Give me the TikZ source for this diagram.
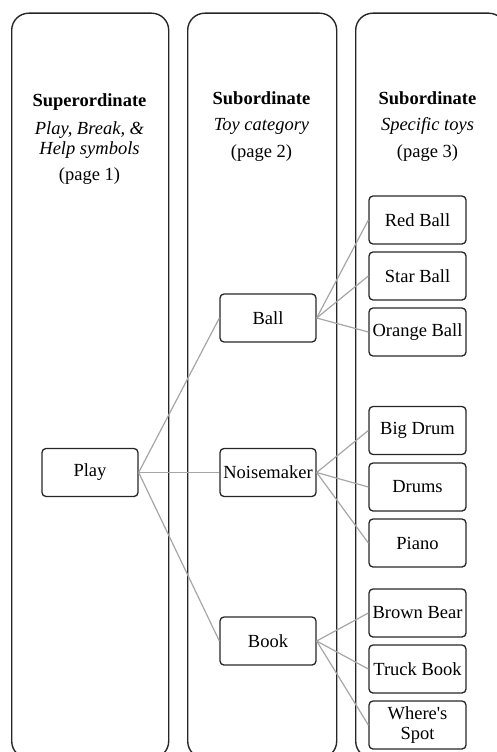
\documentclass[tikz,border=0pt]{standalone}
\usepackage{fontspec}
\setmainfont{Liberation Serif}
\begin{document}
\begin{tikzpicture}[x=1pt,y=-1pt,
  panel/.style={draw=black!85, line width=1.4pt, rounded corners=17pt, inner sep=0pt, anchor=north west},
  toy/.style={draw=black!85, line width=1.3pt, rounded corners=4pt, minimum width=96pt, minimum height=48pt, inner sep=0pt, font=\fontsize{18.5}{20}\selectfont, align=center},
  toyr/.style={toy, minimum width=97pt},
  link/.style={draw=black!35, line width=1.2pt},
  head/.style={anchor=base, inner sep=0pt, font=\fontsize{18.5}{20}\selectfont\bfseries},
  subt/.style={anchor=base, inner sep=0pt, font=\fontsize{18.5}{20}\selectfont\itshape},
  pg/.style={anchor=base, inner sep=0pt, font=\fontsize{18.5}{20}\selectfont}]
\useasboundingbox (0,0) rectangle (496,752);

% panels
\node[panel, minimum width=157pt, minimum height=745pt] (p1) at (11,12.5) {};
\node[panel, minimum width=149pt, minimum height=745pt] (p2) at (187,12.5) {};
\node[panel, minimum width=150pt, minimum height=745pt] (p3) at (355,12.5) {};

% headers
\node[head] (h1) at (89.5,106) {Superordinate};
\node[subt] (h1a) at (89.5,134) {Play, Break, \&};
\node[subt] (h1b) at (89.5,154) {Help symbols};
\node[pg] (h1c) at (89.5,180) {(page 1)};

\node[head] (h2) at (261.5,104) {Subordinate};
\node[subt] (h2a) at (261.5,130) {Toy category};
\node[pg] (h2c) at (261.5,157) {(page 2)};

\node[head] (h3) at (427.5,104) {Subordinate};
\node[subt] (h3a) at (427.5,130) {Specific toys};
\node[pg] (h3c) at (427.5,157) {(page 3)};

% boxes
\node[toy] (play) at (90,472.5) {Play};
\node[toy] (ball) at (268,318) {Ball};
\node[toy] (noise) at (268,472.5) {Noisemaker};
\node[toy] (book) at (268,641) {Book};

\node[toyr] (red) at (417.5,220) {Red Ball};
\node[toyr] (star) at (417.5,276) {Star Ball};
\node[toyr] (orange) at (417.5,332) {Orange Ball};
\node[toyr] (bigdrum) at (417.5,430.5) {Big Drum};
\node[toyr] (drums) at (417.5,487) {Drums};
\node[toyr] (piano) at (417.5,543) {Piano};
\node[toyr] (bear) at (417.5,613) {Brown Bear};
\node[toyr] (truck) at (417.5,669) {Truck Book};
\node[toyr] (spot) at (417.5,725) {Where\textquotesingle s\\Spot};

% connectors
\draw[link] (play.east) -- (ball.west);
\draw[link] (play.east) -- (noise.west);
\draw[link] (play.east) -- (book.west);
\draw[link] (ball.east) -- (red.west);
\draw[link] (ball.east) -- (star.west);
\draw[link] (ball.east) -- (orange.west);
\draw[link] (noise.east) -- (bigdrum.west);
\draw[link] (noise.east) -- (drums.west);
\draw[link] (noise.east) -- (piano.west);
\draw[link] (book.east) -- (bear.west);
\draw[link] (book.east) -- (truck.west);
\draw[link] (book.east) -- (spot.west);
\end{tikzpicture}
\end{document}
